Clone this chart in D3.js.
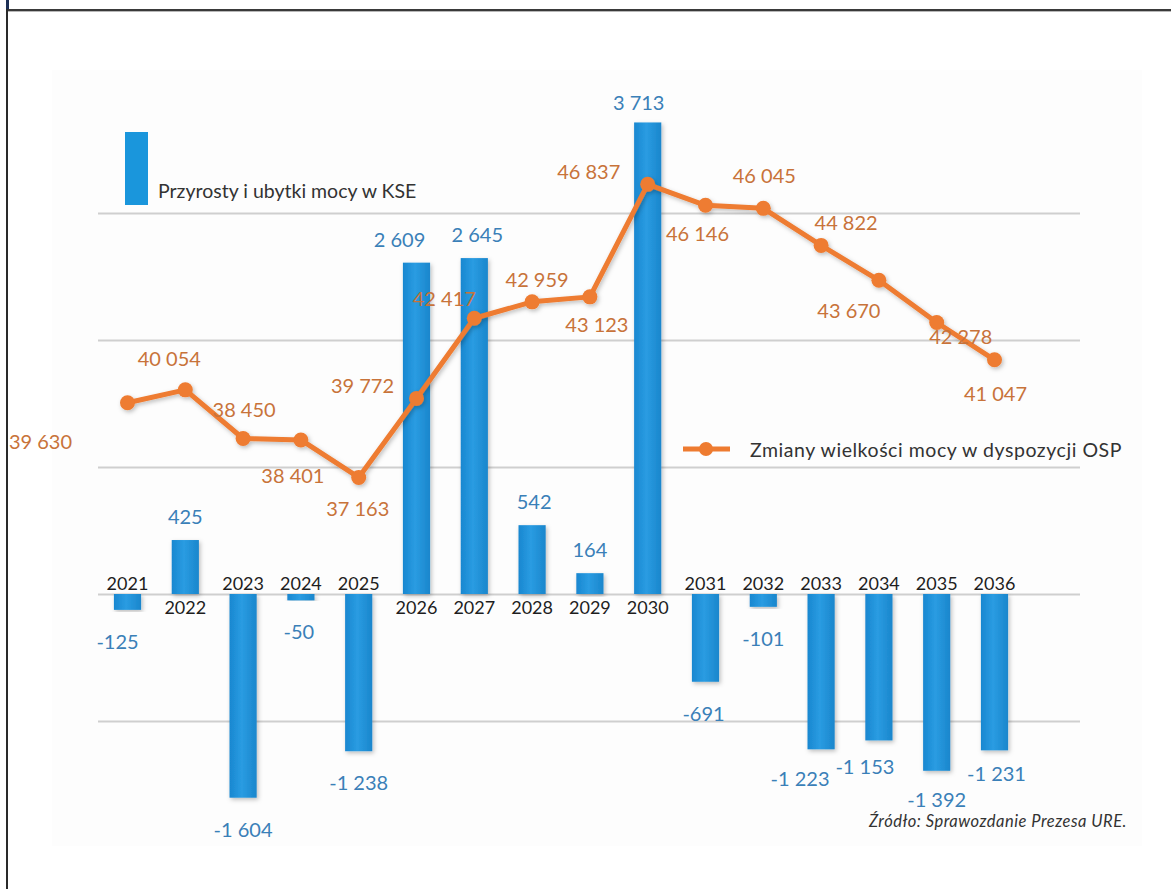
<!DOCTYPE html>
<html>
<head>
<meta charset="utf-8">
<script src="https://cdn.jsdelivr.net/npm/d3@7"></script>
<style>
  html, body { margin: 0; padding: 0; background: #ffffff; }
  svg { display: block; }
</style>
</head>
<body>
<svg id="chart" width="1171" height="889"></svg>
<script>
// Lata prognozy
const years = ["2021","2022","2023","2024","2025","2026","2027","2028","2029","2030","2031","2032","2033","2034","2035","2036"];
// Przyrosty i ubytki mocy w KSE [MW]
const capacityChange = [-125, 425, -1604, -50, -1238, 2609, 2645, 542, 164, 3713, -691, -101, -1223, -1153, -1392, -1231];
// Zmiany wielkości mocy w dyspozycji OSP [MW]
const ospCapacity = [39630, 40054, 38450, 38401, 37163, 39772, 42417, 42959, 43123, 46837, 46146, 46045, 44822, 43670, 42278, 41047];
// Linie siatki osi słupków
const gridTicks = [-1000, 0, 1000, 2000, 3000];
const seriesNames = ["Przyrosty i ubytki mocy w KSE", "Zmiany wielkości mocy w dyspozycji OSP"];
const sourceNote = "Źródło: Sprawozdanie Prezesa URE.";

// Ręczne przesunięcia etykiet (px) względem punktu zakotwiczenia
const barLabelNudge = [[-10,0],[0,0],[0,0],[-2,0],[0,0],[-17,0],[3,0],[2,0],[0,0],[-9,4],[-2,0],[0,0],[-21,-2],[-14,-5],[0,-3],[2,-8]];
const lineLabelNudge = [[-87,38],[-16,-32],[1,-29],[-8,35],[-1,31],[-54,-13],[-30,-20],[5,-23],[7,27],[-59,-13],[-8,28],[1,-33],[25,-23],[-30,30],[24,14],[1,33]];

const svg = d3.select("#chart");
const FONT = "Lato, 'Open Sans', sans-serif";

// ramka
svg.append("rect").attr("x", 52).attr("y", 70).attr("width", 1090).attr("height", 776).attr("fill", "#fdfdfd");
svg.append("line").attr("x1", 6).attr("x2", 1171).attr("y1", 10).attr("y2", 10).attr("stroke", "#3a3a3a").attr("stroke-width", 2);
svg.append("line").attr("x1", 6).attr("x2", 1171).attr("y1", 11.5).attr("y2", 11.5).attr("stroke", "#b8b8b8").attr("stroke-width", 1);
svg.append("line").attr("x1", 7).attr("x2", 7).attr("y1", 9).attr("y2", 889).attr("stroke", "#2a2a2a").attr("stroke-width", 2);
svg.append("line").attr("x1", 7.5).attr("x2", 7.5).attr("y1", 0).attr("y2", 9).attr("stroke", "#1c2f55").attr("stroke-width", 3);

const defs = svg.append("defs");
const grad = defs.append("linearGradient").attr("id", "barGrad").attr("x1", 0).attr("x2", 1).attr("y1", 0).attr("y2", 0);
grad.append("stop").attr("offset", "0%").attr("stop-color", "#1887d0");
grad.append("stop").attr("offset", "45%").attr("stop-color", "#2a9ce2");
grad.append("stop").attr("offset", "100%").attr("stop-color", "#1a86cc");
const shadow = defs.append("filter").attr("id", "shadow").attr("x", "-30%").attr("y", "-10%").attr("width", "160%").attr("height", "120%");
shadow.append("feDropShadow").attr("dx", 1.5).attr("dy", 2).attr("stdDeviation", 2).attr("flood-color", "#000").attr("flood-opacity", 0.25);

// skale
const x = d3.scaleBand().domain(years).range([98.6, 1023.4]).paddingInner(0.53).paddingOuter(0.265);
const yBar = d3.scaleLinear().domain([-2000, 4000]).range([848, 86]);
const yLine = d3.scaleLinear().domain([30000, 50000]).range([694.5, 88.5]);
const cx = d => x(d) + x.bandwidth() / 2;

// siatka
const grid = svg.append("g").attr("transform", "translate(98,0)")
  .call(d3.axisLeft(yBar).tickValues(gridTicks).tickSize(-982).tickFormat(""));
grid.select(".domain").remove();
grid.selectAll(".tick line").attr("stroke", "#cfcfcf").attr("stroke-width", 2);

// słupki
svg.append("g").selectAll("rect").data(years).join("rect")
  .attr("x", d => x(d))
  .attr("width", x.bandwidth())
  .attr("y", (d, i) => yBar(Math.max(0, capacityChange[i])))
  .attr("height", (d, i) => Math.abs(yBar(capacityChange[i]) - yBar(0)))
  .attr("fill", "url(#barGrad)")
  .attr("filter", "url(#shadow)");

// etykiety lat przy osi zerowej
svg.append("g").selectAll("text").data(years).join("text")
  .attr("x", d => cx(d))
  .attr("y", (d, i) => yBar(0) + (capacityChange[i] < 0 ? -11 : 13))
  .attr("text-anchor", "middle").attr("dominant-baseline", "central")
  .attr("font-family", FONT).attr("font-size", 18).attr("fill", "#1e1e1e")
  .text(d => d);

const fmtSp = v => (v < 0 ? "-" : "") + d3.format(",")(Math.abs(v)).replace(/,/g, " ");

// etykiety wartości słupków
svg.append("g").selectAll("text").data(years).join("text")
  .attr("x", (d, i) => cx(d) + barLabelNudge[i][0])
  .attr("y", (d, i) => yBar(capacityChange[i]) + (capacityChange[i] < 0 ? 31 : -24) + barLabelNudge[i][1])
  .attr("text-anchor", "middle").attr("dominant-baseline", "central")
  .attr("font-family", FONT).attr("font-size", 20).attr("fill", "#3a80b8")
  .text((d, i) => fmtSp(capacityChange[i]));

// linia OSP
const lineGen = d3.line().x((d, i) => cx(years[i])).y(d => yLine(d));
const lineG = svg.append("g").attr("filter", "url(#shadow)");
lineG.append("path").datum(ospCapacity).attr("d", lineGen)
  .attr("fill", "none").attr("stroke", "#ee7b30").attr("stroke-width", 5).attr("stroke-linejoin", "round");
lineG.selectAll("circle").data(ospCapacity).join("circle")
  .attr("cx", (d, i) => cx(years[i])).attr("cy", d => yLine(d)).attr("r", 7.5)
  .attr("fill", "#ee7b30");

// etykiety wartości linii
svg.append("g").selectAll("text").data(ospCapacity).join("text")
  .attr("x", (d, i) => cx(years[i]) + lineLabelNudge[i][0])
  .attr("y", (d, i) => yLine(d) + lineLabelNudge[i][1])
  .attr("text-anchor", "middle").attr("dominant-baseline", "central")
  .attr("font-family", FONT).attr("font-size", 20).attr("fill", "#c8733a")
  .text(d => fmtSp(d));

// legenda
const lg = svg.append("g");
lg.append("rect").attr("x", 125).attr("y", 132).attr("width", 23).attr("height", 73).attr("fill", "#1a96dc");
lg.append("text").attr("x", 158).attr("y", 190).attr("dominant-baseline", "central")
  .attr("font-family", FONT).attr("font-size", 19.5).attr("fill", "#333").text(seriesNames[0]);
lg.append("line").attr("x1", 683).attr("x2", 730).attr("y1", 449).attr("y2", 449).attr("stroke", "#ee7b30").attr("stroke-width", 5);
lg.append("circle").attr("cx", 706).attr("cy", 449).attr("r", 7).attr("fill", "#ee7b30");
lg.append("text").attr("x", 750).attr("y", 449).attr("dominant-baseline", "central")
  .attr("font-family", FONT).attr("font-size", 19.5).attr("letter-spacing", 0.55).attr("fill", "#333").text(seriesNames[1]);

// źródło
svg.append("text").attr("x", 1127).attr("y", 821).attr("text-anchor", "end").attr("dominant-baseline", "central")
  .attr("font-family", FONT).attr("font-size", 16.5).attr("font-style", "italic").attr("letter-spacing", 0.5).attr("fill", "#333")
  .text(sourceNote);
</script>
</body>
</html>
